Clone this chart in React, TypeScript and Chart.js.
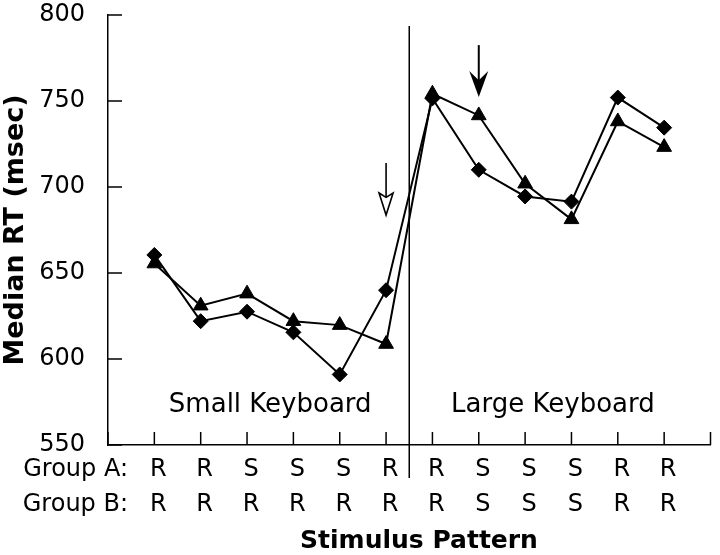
import React, { useEffect, useRef } from 'react';
import { Chart, registerables } from 'chart.js';

Chart.register(...registerables);

// ---- data ----
const patternIndex = [0, 1, 2, 3, 4, 5, 6, 7, 8, 9, 10, 11];
const groupA = ['R', 'R', 'S', 'S', 'S', 'R', 'R', 'S', 'S', 'S', 'R', 'R'];
const groupB = ['R', 'R', 'R', 'R', 'R', 'R', 'R', 'S', 'S', 'S', 'R', 'R'];
const diamondRT = [660.5, 622, 627.5, 615.5, 591, 640, 751.5, 710, 694.5, 691.5, 752, 734.5];
const triangleRT = [655.5, 631, 638, 622, 619.7, 608.7, 754.2, 741.6, 701.9, 681.2, 738.1, 723.2];
const yTicks = [550, 600, 650, 700, 750, 800];
const keyboardLabels = ['Small Keyboard', 'Large Keyboard'];
const keyboardLabelX = [2.5, 8.6];
const keyboardLabelY = 573;
const dividerAt = 5.5;
// arrows: [x index, shaft top value, head top value, notch value, tip value]
const openArrow = [5, 714, 696.5, 694, 683.7];
const solidArrow = [7, 782.5, 767.5, 762, 752.3];

const FONT = "'DejaVu Sans', 'Liberation Sans', sans-serif";

export default function App() {
  const ref = useRef<HTMLCanvasElement>(null);

  useEffect(() => {
    if (!ref.current) return;

    const decor = {
      id: 'decor',
      afterDraw(chart: any) {
        const { ctx } = chart;
        const x = chart.scales.x;
        const y = chart.scales.y;
        ctx.save();
        ctx.strokeStyle = '#000';
        ctx.fillStyle = '#000';
        ctx.lineWidth = 1.5;
        // inward y ticks
        y.ticks.forEach((t: any) => {
          const py = y.getPixelForValue(t.value);
          ctx.beginPath();
          ctx.moveTo(x.left, py);
          ctx.lineTo(x.left + 14, py);
          ctx.stroke();
        });
        // inward x ticks
        x.ticks.forEach((t: any) => {
          const px = x.getPixelForValue(t.value);
          ctx.beginPath();
          ctx.moveTo(px, y.bottom);
          ctx.lineTo(px, y.bottom - 13);
          ctx.stroke();
        });
        // divider
        const dx = x.getPixelForValue(dividerAt);
        ctx.beginPath();
        ctx.moveTo(dx, y.top + 11);
        ctx.lineTo(dx, y.bottom + 33);
        ctx.stroke();

        // keyboard labels
        ctx.font = `26px ${FONT}`;
        ctx.textAlign = 'center';
        ctx.textBaseline = 'middle';
        keyboardLabels.forEach((s, i) => {
          ctx.fillText(s, x.getPixelForValue(keyboardLabelX[i]), y.getPixelForValue(keyboardLabelY));
        });

        // group row labels
        ctx.font = `24px ${FONT}`;
        ctx.textAlign = 'right';
        ctx.fillText('Group A:', x.left + 20, y.bottom + 25);
        ctx.fillText('Group B:', x.left + 20, y.bottom + 60);

        // x axis title
        ctx.font = `bold 25px ${FONT}`;
        ctx.textAlign = 'center';
        ctx.fillText('Stimulus Pattern', 419, y.bottom + 96);

        // open arrow
        {
          const ax = x.getPixelForValue(openArrow[0]);
          const top = y.getPixelForValue(openArrow[1]);
          const headTop = y.getPixelForValue(openArrow[2]);
          const notch = y.getPixelForValue(openArrow[3]);
          const tip = y.getPixelForValue(openArrow[4]);
          ctx.lineWidth = 1.6;
          ctx.beginPath();
          ctx.moveTo(ax, top);
          ctx.lineTo(ax, notch);
          ctx.stroke();
          ctx.beginPath();
          ctx.moveTo(ax - 7, headTop);
          ctx.lineTo(ax, notch);
          ctx.lineTo(ax + 7, headTop);
          ctx.lineTo(ax, tip);
          ctx.closePath();
          ctx.stroke();
        }
        // solid arrow
        {
          const ax = x.getPixelForValue(solidArrow[0]);
          const top = y.getPixelForValue(solidArrow[1]);
          const headTop = y.getPixelForValue(solidArrow[2]);
          const notch = y.getPixelForValue(solidArrow[3]);
          const tip = y.getPixelForValue(solidArrow[4]);
          ctx.lineWidth = 2;
          ctx.beginPath();
          ctx.moveTo(ax, top);
          ctx.lineTo(ax, notch + 2);
          ctx.stroke();
          ctx.beginPath();
          ctx.moveTo(ax - 9.5, headTop);
          ctx.lineTo(ax, notch);
          ctx.lineTo(ax + 9.5, headTop);
          ctx.lineTo(ax, tip);
          ctx.closePath();
          ctx.fill();
        }
        ctx.restore();
      },
    };

    const chart = new Chart(ref.current, {
      type: 'line',
      data: {
        datasets: [
          {
            label: 'Diamond',
            data: patternIndex.map((i) => ({ x: i, y: diamondRT[i] })),
            borderColor: '#000',
            backgroundColor: '#000',
            borderWidth: 2,
            pointStyle: 'rectRot',
            pointRadius: 7.5,
            pointBorderWidth: 1,
          },
          {
            label: 'Triangle',
            data: patternIndex.map((i) => ({ x: i, y: triangleRT[i] })),
            borderColor: '#000',
            backgroundColor: '#000',
            borderWidth: 2,
            pointStyle: 'triangle',
            pointRadius: 8.5,
            pointBorderWidth: 1,
          },
        ],
      },
      options: {
        responsive: false,
        animation: false,
        devicePixelRatio: 1,
        layout: { padding: { left: 0, top: 15, right: 6, bottom: 0 } },
        plugins: { legend: { display: false }, tooltip: { enabled: false } },
        scales: {
          x: {
            type: 'linear',
            min: -1,
            max: 12,
            afterFit: (s: any) => {
              s.height = 110;
              s.paddingLeft = 0;
              s.paddingRight = 0;
            },
            grid: { display: false, drawTicks: false },
            border: { display: true, color: '#000', width: 1.5 },
            ticks: {
              stepSize: 1,
              autoSkip: false,
              maxRotation: 0,
              padding: 7.5,
              labelOffset: 4,
              color: '#000',
              font: { family: FONT, size: 24, lineHeight: '35px' },
              callback: (v: any) => {
                const i = Number(v);
                return i >= 0 && i < groupA.length ? [groupA[i], groupB[i]] : '';
              },
            },
          },
          y: {
            min: yTicks[0],
            max: yTicks[yTicks.length - 1],
            afterFit: (s: any) => {
              s.width = 108;
              s.paddingTop = 0;
              s.paddingBottom = 0;
            },
            afterBuildTicks: (s: any) => {
              s.ticks = yTicks.map((v) => ({ value: v }));
            },
            grid: { display: false, drawTicks: false },
            border: { display: true, color: '#000', width: 1.5 },
            title: {
              display: true,
              text: 'Median RT (msec)',
              color: '#000',
              padding: 0,
              font: { family: FONT, size: 27, weight: 'bold' },
            },
            ticks: {
              padding: 23,
              color: '#000',
              font: { family: FONT, size: 24 },
            },
          },
        },
      },
      plugins: [decor],
    });

    return () => chart.destroy();
  }, []);

  return (
    <div style={{ position: 'fixed', left: 0, top: 0, width: 720, height: 555, background: '#fff' }}>
      <canvas ref={ref} width={720} height={555} />
    </div>
  );
}
